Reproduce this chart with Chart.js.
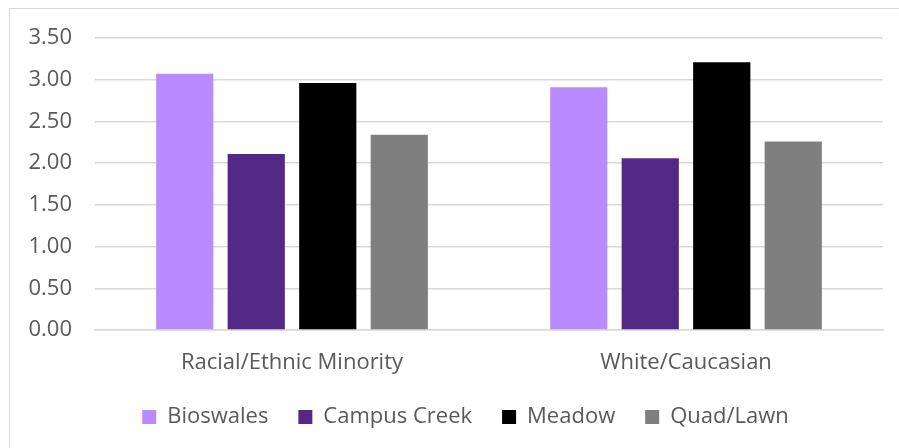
<!DOCTYPE html>
<html>
<head>
<meta charset="utf-8">
<script src="https://cdn.jsdelivr.net/npm/chart.js@4"></script>
<style>
  body { margin: 0; background: #ffffff; }
  #wrap { position: relative; width: 899px; height: 448px; overflow: hidden; }
  #frame { position: absolute; left: 9px; top: 8px; width: 1000px; height: 600px; border: 1.5px solid #d9d9d9; box-sizing: border-box; }
  #chart { position: absolute; left: 0; top: 0; }
</style>
</head>
<body>
<div id="wrap">
  <div id="frame"></div>
  <canvas id="chart" width="899" height="448"></canvas>
</div>
<script>
// Groups along the x axis
const groups = ["Racial/Ethnic Minority", "White/Caucasian"];

// Mean scores per site
const bioswales = [3.07, 2.91];
const campusCreek = [2.11, 2.06];
const meadow = [2.96, 3.21];
const quadLawn = [2.34, 2.26];

const seriesNames = ["Bioswales", "Campus Creek", "Meadow", "Quad/Lawn"];
const seriesColors = ["#b98bff", "#532887", "#000000", "#7f7f7f"];

const yMin = 0;
const yMax = 3.5;
const yStep = 0.5;

const textColor = "#595959";
const gridColor = "#d9d9d9";
const fontFamily = "'Open Sans', sans-serif";

const seriesValues = [bioswales, campusCreek, meadow, quadLawn];

const datasets = seriesNames.map(function (name, i) {
    return {
        label: name,
        data: seriesValues[i],
        backgroundColor: seriesColors[i],
        borderWidth: 0,
        barPercentage: 0.8,
        categoryPercentage: 0.726,
    };
});

// nudge the legend row to the right so it sits under the plot centre
const legendShift = {
    id: "legendShift",
    afterLayout: function (chart) {
        chart.legend.left += 24;
        chart.legend.right += 24;
    },
};

const ctx = document.getElementById("chart").getContext("2d");
new Chart(ctx, {
    type: "bar",
    data: {
        labels: groups,
        datasets: datasets,
    },
    plugins: [legendShift],
    options: {
        responsive: false,
        animation: false,
        layout: {
            padding: { top: 38, right: 16, bottom: 10, left: 0 },
        },
        scales: {
            x: {
                grid: { display: false, drawTicks: false },
                border: { display: true, color: gridColor, width: 1.5 },
                ticks: {
                    color: textColor,
                    font: { family: fontFamily, size: 22 },
                    padding: 20,
                },
                afterFit: function (scale) {
                    scale.height = 46;
                },
            },
            y: {
                min: yMin,
                max: yMax,
                grid: { color: gridColor, lineWidth: 1.5, drawTicks: false },
                border: { display: false },
                ticks: {
                    stepSize: yStep,
                    color: textColor,
                    font: { family: fontFamily, size: 22 },
                    padding: 23,
                    callback: function (value) {
                        return Number(value).toFixed(2);
                    },
                },
                afterFit: function (scale) {
                    scale.width = 95;
                },
            },
        },
        plugins: {
            tooltip: { enabled: false },
            legend: {
                position: "bottom",
                labels: {
                    color: textColor,
                    font: { family: fontFamily, size: 22 },
                    boxWidth: 14,
                    boxHeight: 14,
                    padding: 30,
                },
            },
        },
    },
});
</script>
</body>
</html>
